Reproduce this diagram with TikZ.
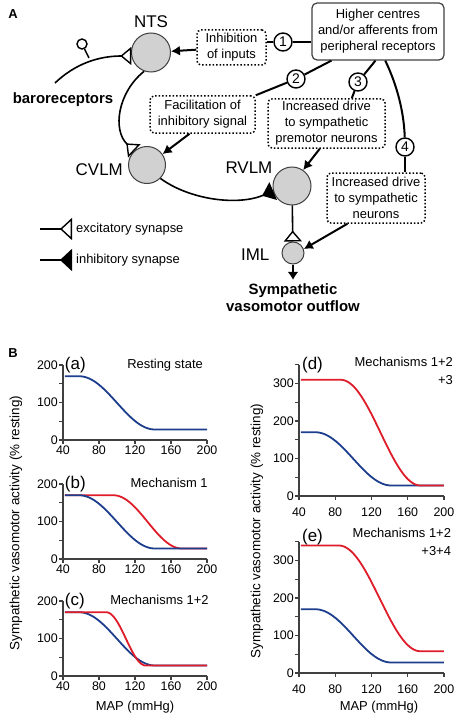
\documentclass[tikz,border=0pt]{standalone}
\usepackage{fontspec}
\setmainfont{Liberation Sans}
\usetikzlibrary{arrows.meta,positioning}
\definecolor{curveblue}{RGB}{28,62,140}
\definecolor{curvered}{RGB}{222,28,42}
% flat top, cosine fall, flat bottom
\newcommand\sigcurve[5]{\draw[#1] (42,#4) -- (#2,#4) -- plot[domain=#2:#3,samples=40] (\x,{#5+(#4-#5)*(1+cos(180*(\x-#2)/(#3-#2)))/2}) -- (200,#5);}
% axes of one graph: top value, labelled values, offset of x labels
\newcommand\panelaxes[3]{%
  \draw[axisline] (40,#1) -- (40,0) -- (200,0);
  \foreach \v in {0,50,...,#1} \draw[axisline] (40,\v) -- ++(-4.5,0);
  \foreach \v in {#2} \node[ticklbl,anchor=east] (yl\v) at (34.5,\v) {\v};
  \foreach \u in {40,80,...,200} {\draw[axisline] (\u,0) -- ++(0,-11);
    \node[ticklbl,anchor=north] (xl\u) at (\u,#3) {\u};}}

\begin{document}
\begin{tikzpicture}[x=1bp,y=-1bp,
  nucleus/.style={circle,draw=black!75,fill=black!18,line width=1bp,inner sep=0pt},
  numcirc/.style={circle,draw,fill=white,line width=1.4bp,minimum size=18bp,inner sep=0pt,font=\fontsize{14}{14}\selectfont},
  infobox/.style={draw,dotted,line width=1.5bp,rounded corners=4bp,align=center,inner sep=0pt,font=\fontsize{13}{16}\selectfont},
  link/.style={line width=2bp},
  drive/.style={line width=2bp,-{Latex[length=9bp,width=10bp]}},
  exc/.style={line width=1.6bp,-{Triangle[reversed,open,length=11bp,width=18bp,line width=1.4bp]}},
  inh/.style={line width=1.6bp,-{Triangle[reversed,length=12bp,width=19bp]}},
  lbl/.style={inner sep=0pt,font=\fontsize{17}{17}\selectfont},
  boldlbl/.style={inner sep=0pt,align=center,font=\bfseries\fontsize{15}{17}\selectfont},
  smalltxt/.style={inner sep=0pt,font=\fontsize{13}{16}\selectfont},
  axisline/.style={draw=black!75,line width=1.1bp},
  ticklbl/.style={inner sep=0pt,font=\fontsize{12.5}{12.5}\selectfont},
  panelno/.style={inner sep=0pt,font=\fontsize{17}{17}\selectfont},
  bluecurve/.style={draw=curveblue,line width=1.8bp},
  redcurve/.style={draw=curvered,line width=1.8bp}]
\useasboundingbox (0,0) rectangle (454,716);

% ---- A: circuit
\node[inner sep=0pt,font=\bfseries\fontsize{13}{13}\selectfont] (partA) at (13,14) {A};
\node[nucleus,minimum size=39bp] (NTS) at (151,52.5) {};
\node[nucleus,minimum size=37bp] (CVLM) at (147,165) {};
\node[nucleus,minimum size=38bp] (RVLM) at (292,186) {};
\node[nucleus,minimum size=22bp] (IML) at (293,253) {};
\node[lbl] (ntslbl) [above=5bp of NTS] {NTS};
\node[lbl] (cvlmlbl) [left=5bp of CVLM,yshift=-5bp] {CVLM};
\node[lbl] (rvlmlbl) [left=0bp of RVLM,yshift=18bp] {RVLM};
\node[lbl] (imllbl) [left=12bp of IML,yshift=-2bp] {IML};
\node[boldlbl] (barolbl) at (63,100) {baroreceptors};
\node[boldlbl] (outflow) at (293,298) {Sympathetic\\vasomotor outflow};

\node[draw=black!75,line width=1.2bp,rounded corners=5bp,align=center,inner sep=0pt,
  minimum width=132bp,minimum height=57bp,font=\fontsize{13}{16}\selectfont]
  (higher) at (378,31.5) {Higher centres\\and/or afferents from\\peripheral receptors};
\node[infobox,minimum width=69bp,minimum height=35bp] (inhib) at (231.5,47.5) {Inhibition\\of inputs};
\node[infobox,minimum width=105bp,minimum height=37bp] (facil) at (202.5,114.5) {Facilitation of\\inhibitory signal};
\node[infobox,minimum width=117bp,minimum height=49bp] (premot) at (326.5,123.5) {Increased drive\\to sympathetic\\premotor neurons};
\node[infobox,minimum width=98bp,minimum height=50bp] (sympn) at (376,198) {Increased drive\\to sympathetic\\neurons};

\node[numcirc] (m1) at (283,42) {1};
\node[numcirc] (m2) at (296,79) {2};
\node[numcirc] (m3) at (358,82) {3};
\node[numcirc] (m4) at (405,147) {4};

\draw[link] (m1) -- (m1 -| higher.west);
\draw[link] (m1) -- (m1 -| inhib.east);
\draw[link] (higher.212) -- (m2);
\draw[link] (m2) -- (facil.north east);
\draw[link] (higher.265) -- (m3);
\draw[link] (m3) -- (premot.45);
\draw[link] (higher.284) .. controls (397,85) and (404,112) .. (m4);
\draw[link] (m4) -- (m4 |- sympn.north);

\draw[drive] (inhib) -- (NTS);
\draw[drive] (facil.236) -- (CVLM.35);
\draw[drive] (premot.255) -- (RVLM.55);
\draw[drive] (sympn.222) -- (IML.20);
\draw[line width=1.6bp,-{Latex[length=8bp,width=11bp]},shorten >=4bp] (IML) -- (outflow.north);

% synapses
\coordinate (baro) at (55,83);
\coordinate (stem) at (89,58);
\node[circle,draw,line width=1.4bp,minimum size=10bp,inner sep=0pt] (ending) at (82,44) {};
\draw[line width=1.4bp] (ending) -- (stem);
\draw[exc] (baro) .. controls (75,64) and (98,56) .. (NTS.190);
\draw[exc] (NTS.250) .. controls (118,92) and (112,130) .. (CVLM.132);
\draw[inh] (CVLM.-45) .. controls (190,200) and (238,206) .. (RVLM.195);
\draw[exc] (RVLM) -- (IML);

% legend
\coordinate (excA) at (40,229);
\coordinate (excB) at (72,229);
\coordinate (inhA) at (40,260);
\coordinate (inhB) at (72,260);
\draw[exc,-{Triangle[reversed,open,length=12bp,width=22bp,line width=1.4bp]}] (excA) -- (excB);
\draw[inh,-{Triangle[reversed,length=12bp,width=22bp]}] (inhA) -- (inhB);
\node[smalltxt,right=4bp of excB] (exctxt) {excitatory synapse};
\node[smalltxt,right=4bp of inhB] (inhtxt) {inhibitory synapse};

% ---- B: graphs
\node[inner sep=0pt,font=\bfseries\fontsize{13}{13}\selectfont] (partB) at (13,353) {B};
\node[smalltxt,rotate=90,font=\fontsize{13.5}{16}\selectfont] (ylabL) at (16,523) {Sympathetic vasomotor activity (\% resting)};
\node[smalltxt,rotate=90,font=\fontsize{13.5}{16}\selectfont] (ylabR) at (257,531) {Sympathetic vasomotor activity (\% resting)};
\node[smalltxt] (xlabL) at (135,707) {MAP (mmHg)};
\node[smalltxt] (xlabR) at (379,707) {MAP (mmHg)};

\begin{scope}[shift={(27,440)},x=0.9bp,y=0.375bp]
  \panelaxes{200}{0,100,200}{-14}
  \sigcurve{bluecurve}{58}{142}{170}{28}
  \node[panelno,anchor=west] (pa) at (42,200) {(a)};
  \node[smalltxt,anchor=east] (ta) at (195.6,200) {Resting state};
\end{scope}
\begin{scope}[shift={(27,559)},x=0.9bp,y=0.375bp]
  \panelaxes{200}{0,100,200}{-14}
  \sigcurve{redcurve}{96}{172}{170}{28}
  \sigcurve{bluecurve}{58}{142}{170}{28}
  \node[panelno,anchor=west] (pb) at (42,200) {(b)};
  \node[smalltxt,anchor=east] (tb) at (201,203) {Mechanism 1};
\end{scope}
\begin{scope}[shift={(27,676)},x=0.9bp,y=0.375bp]
  \panelaxes{200}{0,100,200}{-14}
  \sigcurve{bluecurve}{58}{142}{170}{28}
  \sigcurve{redcurve}{88}{132}{170}{28}
  \node[panelno,anchor=west] (pc) at (42,200) {(c)};
  \node[smalltxt,anchor=east] (tc) at (202,203) {Mechanisms 1+2};
\end{scope}
\begin{scope}[shift={(262.75,496)},x=0.906bp,y=0.375bp]
  \panelaxes{350}{0,100,200,300}{-30}
  \sigcurve{bluecurve}{58}{142}{170}{28}
  \sigcurve{redcurve}{86}{174}{310}{28}
  \node[panelno,anchor=west] (pd) at (43.3,350) {(d)};
  \node[smalltxt,anchor=north east,align=right,font=\fontsize{13}{18}\selectfont] (td) at (210,370) {Mechanisms 1+2\\+3};
\end{scope}
\begin{scope}[shift={(262.75,673)},x=0.906bp,y=0.375bp]
  \panelaxes{350}{0,100,200,300}{-30}
  \sigcurve{bluecurve}{58}{142}{170}{28}
  \sigcurve{redcurve}{84}{174}{340}{58}
  \node[panelno,anchor=west] (pe) at (43.3,363) {(e)};
  \node[smalltxt,anchor=north east,align=right,font=\fontsize{13}{18}\selectfont] (te) at (208,386) {Mechanisms 1+2\\+3+4};
\end{scope}
\end{tikzpicture}
\end{document}
